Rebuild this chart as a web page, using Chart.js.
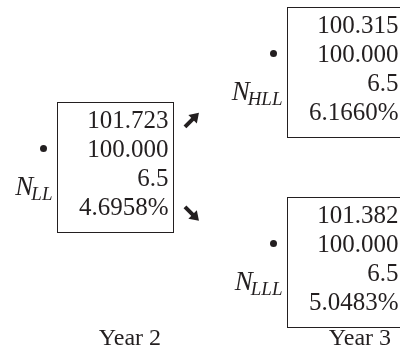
<!DOCTYPE html>
<html>
<head>
<meta charset="utf-8">
<script src="https://cdn.jsdelivr.net/npm/chart.js@4/dist/chart.umd.min.js"></script>
<style>
html,body{margin:0;padding:0;background:#fff;}
#c{display:block;}
</style>
</head>
<body>
<canvas id="c" width="400" height="354"></canvas>
<script>
// ---- data ----
const nodeNames   = ['LL', 'HLL', 'LLL'];
const nodeYears   = [2, 3, 3];
const nodeLevels  = [0, 1, -1];
const bondValues  = [101.723, 100.315, 101.382];
const parValues   = [100.000, 100.000, 100.000];
const coupons     = [6.5, 6.5, 6.5];
const forwardRates = [4.6958, 6.1660, 5.0483];
const edges       = [[0, 1], [0, 2]];
const yearTicks   = [2, 3];
const yearLabels  = ['Year 2', 'Year 3'];

const INK = '#231f20';
const SERIF = '"Liberation Serif", "DejaVu Serif", serif';

const treePlugin = {
  id: 'tree',
  afterDatasetsDraw(chart) {
    const ctx = chart.ctx;
    const xs = chart.scales.x, ys = chart.scales.y;
    ctx.save();
    ctx.strokeStyle = INK;
    ctx.fillStyle = INK;
    const boxW = 116, boxH = 130, boxDX = -73, rowH = 29;
    nodeNames.forEach((name, i) => {
      const cx = xs.getPixelForValue(nodeYears[i]);
      const cy = ys.getPixelForValue(nodeLevels[i]);
      const left = Math.round(cx + boxDX) + 0.5;
      const top = Math.round(cy - boxH / 2) + 0.5;
      ctx.lineWidth = 1;
      ctx.strokeRect(left, top, boxW, boxH);
      const rows = [
        bondValues[i].toFixed(3),
        parValues[i].toFixed(3),
        String(coupons[i]),
        forwardRates[i].toFixed(4) + '%'
      ];
      ctx.font = '25px ' + SERIF;
      ctx.textAlign = 'right';
      ctx.textBaseline = 'middle';
      rows.forEach((r, k) => {
        ctx.fillText(r, left + boxW - 5, top + 19 + k * rowH);
      });
      // dot
      ctx.beginPath();
      ctx.arc(left - 14, top + 46, 3.5, 0, Math.PI * 2);
      ctx.fill();
      // node label N_xx
      ctx.textAlign = 'left';
      ctx.textBaseline = 'alphabetic';
      ctx.font = 'italic 19px ' + SERIF;
      const subW = ctx.measureText(name).width;
      ctx.font = 'italic 27px ' + SERIF;
      const nW = ctx.measureText('N').width;
      const startX = left - 3 - subW - nW;
      const base = top + 92;
      ctx.fillText('N', startX, base);
      ctx.font = 'italic 19px ' + SERIF;
      ctx.fillText(name, startX + nW - 2, base + 5);
    });
    // arrows
    edges.forEach(([p, c]) => {
      const px = xs.getPixelForValue(nodeYears[p]);
      const py = ys.getPixelForValue(nodeLevels[p]);
      const dir = nodeLevels[c] > nodeLevels[p] ? -1 : 1;
      const sx = px + 55, sy = py + dir * 40;
      const ex = sx + 14, ey = sy + dir * 14;
      const ang = Math.atan2(ey - sy, ex - sx);
      ctx.lineWidth = 4;
      ctx.lineCap = 'butt';
      ctx.beginPath();
      ctx.moveTo(sx, sy);
      ctx.lineTo(ex - 6 * Math.cos(ang), ey - 6 * Math.sin(ang));
      ctx.stroke();
      ctx.beginPath();
      const hl = 9, hw = 6;
      const bx = ex - hl * Math.cos(ang), by = ey - hl * Math.sin(ang);
      ctx.moveTo(ex, ey);
      ctx.lineTo(bx + hw * Math.sin(ang), by - hw * Math.cos(ang));
      ctx.lineTo(bx - hw * Math.sin(ang), by + hw * Math.cos(ang));
      ctx.closePath();
      ctx.fill();
    });
    ctx.restore();
  }
};

new Chart(document.getElementById('c'), {
  type: 'scatter',
  data: {
    datasets: [{
      data: nodeNames.map((n, i) => ({ x: nodeYears[i], y: nodeLevels[i] })),
      pointRadius: 0,
      showLine: false
    }]
  },
  options: {
    responsive: false,
    animation: false,
    devicePixelRatio: 1,
    layout: { padding: 0 },
    plugins: { legend: { display: false }, tooltip: { enabled: false } },
    scales: {
      x: {
        type: 'linear',
        min: 1.435,
        max: 3.174,
        afterBuildTicks: (axis) => { axis.ticks = yearTicks.map(v => ({ value: v })); },
        ticks: {
          autoSkip: false,
          maxRotation: 0,
          padding: 1,
          color: INK,
          font: { family: SERIF, size: 24 },
          callback: (v) => yearLabels[yearTicks.indexOf(v)] ?? ''
        },
        grid: { display: false, drawTicks: false },
        border: { display: false }
      },
      y: {
        display: false,
        min: -1.64,
        max: 1.75
      }
    }
  },
  plugins: [treePlugin]
});
</script>
</body>
</html>
